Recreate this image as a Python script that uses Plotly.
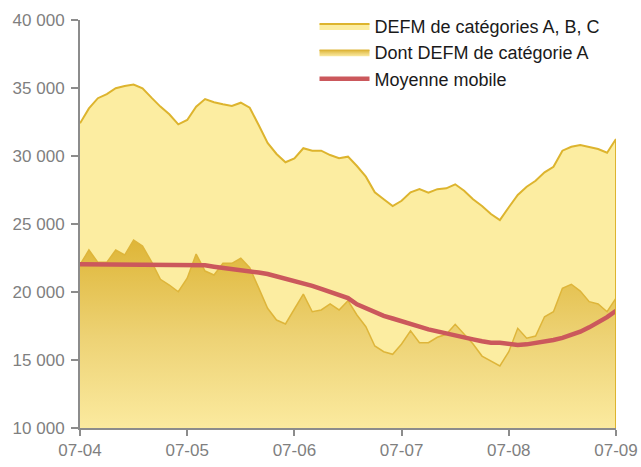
import plotly.graph_objects as go

TICK_LABELS = ['07-04', '07-05', '07-06', '07-07', '07-08', '07-09']

# monthly values, July 2004 -> July 2009
DEFM_ABC = [
    32400, 33500, 34250, 34550, 34980, 35150, 35250, 34980, 34290, 33630,
    33070, 32330, 32650, 33630, 34190, 33950, 33800, 33680, 33920, 33550,
    32280, 30960, 30150, 29540, 29830, 30570, 30390, 30390, 30070, 29830,
    29950, 29265, 28480, 27330, 26820, 26320, 26710, 27330, 27570, 27300,
    27560, 27620, 27920, 27450, 26820, 26320, 25735, 25290, 26230, 27130,
    27740, 28180, 28800, 29210, 30390, 30680, 30810, 30680, 30515, 30240,
    31250,
]

DEFM_A = [
    22000, 23090, 22180, 22180, 23090, 22720, 23820, 23380, 22230, 20930,
    20515, 20020, 21010, 22790, 21540, 21250, 22110, 22110, 22480, 21790,
    20300, 18800, 17940, 17650, 18750, 19850, 18550, 18680, 19120, 18680,
    19360, 18310, 17450, 16030, 15610, 15420, 16180, 17150, 16270, 16270,
    16670, 16890, 17625, 16910, 16180, 15290, 14950, 14560, 15610, 17330,
    16600, 16765, 18180, 18550, 20270, 20570, 20070, 19290, 19120, 18550,
    19540,
]

MOYENNE_MOBILE = [
    22040, 22040, 22040, 22040, 22040, 22040, 22040, 22040, 22040, 22040,
    22040, 22040, 22040, 22040, 21960, 21860, 21780, 21740, 21620, 21540,
    21430, 21320, 21150, 21020, 20800, 20640, 20450, 20230, 20020, 19800,
    19550, 19100, 18800, 18550, 18250, 18050, 17830, 17600, 17450, 17250,
    17120, 16970, 16820, 16680, 16520, 16380, 16270, 16270, 16150, 16100,
    16150, 16260, 16300, 16470, 16630, 16860, 17080, 17400, 17750, 18150,
    18620,
]

GOLD = '#DDB42E'
PALE = '#FCEDA1'
RED = '#CB585C'


def build_figure():
    months = list(range(len(DEFM_ABC)))
    fig = go.Figure()

    fig.add_trace(go.Scatter(
        x=months, y=DEFM_ABC, name='DEFM de catégories A, B, C',
        mode='lines', fill='tozeroy', fillcolor=PALE,
        line=dict(color=GOLD, width=2)))

    fig.add_trace(go.Scatter(
        x=months, y=DEFM_A, name='Dont DEFM de catégorie A',
        mode='lines', fill='tozeroy',
        fillgradient=dict(type='vertical', start=10000, stop=23500,
                          colorscale=[[0, '#FBEA9F'], [0.5, '#EDD274'], [1, '#DFB73A']]),
        line=dict(color='#DEB53A', width=1.5)))

    fig.add_trace(go.Scatter(
        x=months, y=MOYENNE_MOBILE, name='Moyenne mobile',
        mode='lines', line=dict(color=RED, width=4.5)))

    # closing edge of the big area on the right
    fig.add_shape(type='line', x0=months[-1], x1=months[-1], y0=10000, y1=DEFM_ABC[-1],
                  line=dict(color=GOLD, width=2), layer='above')

    fig.update_layout(
        width=641, height=467,
        margin=dict(l=80, r=25, t=20, b=39, autoexpand=False),
        paper_bgcolor='white', plot_bgcolor='white',
        font=dict(family='Liberation Sans, Arial, sans-serif', color='#7F7F7F'),
        separators=', ',
        showlegend=True,
        legend=dict(x=0.4375, y=1.03, xanchor='left', yanchor='top',
                    bgcolor='rgba(0,0,0,0)', itemwidth=50, tracegroupgap=0,
                    font=dict(size=18, color='#1A1A1A')),
    )
    fig.update_xaxes(
        range=[0, 60], tickvals=[0, 12, 24, 36, 48, 60], ticktext=TICK_LABELS,
        automargin=False, showgrid=False, zeroline=False, showline=True,
        linecolor='#8C8C8C', linewidth=2,
        ticks='outside', ticklen=6, tickcolor='#8C8C8C', tickwidth=2,
        tickfont=dict(size=17, color='#7F7F7F'))
    fig.update_yaxes(
        range=[10000, 40000], tickvals=[10000, 15000, 20000, 25000, 30000, 35000, 40000],
        tickformat=',d', automargin=False, showgrid=False, zeroline=False, showline=True,
        linecolor='#8C8C8C', linewidth=2, ticks='outside', ticklen=7,
        tickcolor='#8C8C8C', tickwidth=2, ticklabelstandoff=3,
        tickfont=dict(size=17, color='#7F7F7F'))
    return fig


def main():
    fig = build_figure()
    # drop the default page margin so the chart fills the window exactly
    fig.write_html('out.html', config={'displayModeBar': False},
                   post_script="document.body.style.margin = '0';")


if __name__ == '__main__':
    main()
